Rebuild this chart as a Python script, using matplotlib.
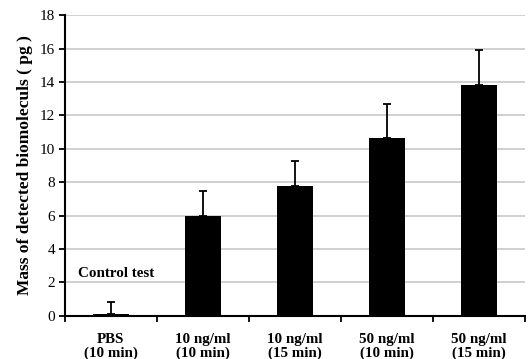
import matplotlib
matplotlib.use("Agg")
import matplotlib.pyplot as plt
import numpy as np

categories = ["PBS\n(10 min)", "10 ng/ml\n(10 min)", "10 ng/ml\n(15 min)", "50 ng/ml\n(10 min)", "50 ng/ml\n(15 min)"]
values = [0.1, 6.0, 7.76, 10.66, 13.83]
errors = [0.75, 1.45, 1.5, 2.0, 2.1]
yticks = [0, 2, 4, 6, 8, 10, 12, 14, 16, 18]

plt.rcParams['font.family'] = ['Liberation Serif', 'DejaVu Serif']

fig = plt.figure(figsize=(5.28, 3.59), dpi=100)
ax = fig.add_axes([0.123, 0.12, 0.871, 0.838])

x = np.arange(len(categories))
ax.bar(x, values, width=0.39, color='black', zorder=3)
ax.errorbar(x, values, yerr=[np.zeros(len(errors)), errors], fmt='none',
            ecolor='black', elinewidth=1.3, capsize=3, capthick=1.3, zorder=4)

ax.set_xlim(-0.5, len(categories) - 0.5)
ax.set_ylim(0, 18)
ax.set_yticks(yticks)
ax.set_yticklabels([str(t) for t in yticks], fontsize=11)
ax.set_xticks(x)
ax.set_xticklabels(categories, fontsize=10.8, fontweight='bold', linespacing=1.1)
ax.tick_params(axis='x', length=0, pad=12)
ax.set_xticks(np.arange(-0.5, len(categories)), minor=True)
ax.tick_params(axis='x', which='minor', length=4, width=1.3, direction='out')
ax.tick_params(axis='y', length=4, width=1.3, direction='out', pad=3)

ax.yaxis.grid(True, color='#c8c8c8', linewidth=1.2, zorder=0)
ax.set_axisbelow(True)
for s in ['top', 'right']:
    ax.spines[s].set_visible(False)
for s in ['left', 'bottom']:
    ax.spines[s].set_linewidth(1.5)

ax.set_ylabel("Mass of detected biomoleculs ( pg )", fontsize=12.5, fontweight='bold', labelpad=5)
ax.text(0.055, 2.55, "Control test", fontsize=10.8, fontweight='bold', ha='center', va='center')

fig.savefig("out.png", dpi=100)
